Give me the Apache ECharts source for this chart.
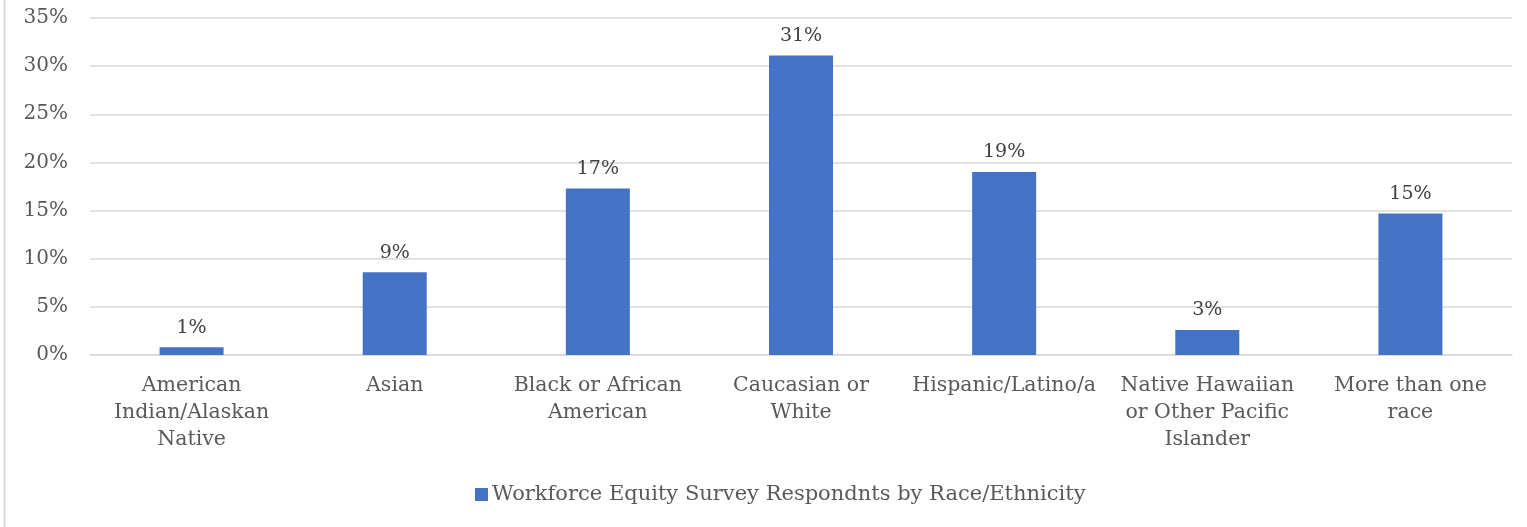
<!DOCTYPE html>
<html>
<head>
<meta charset="utf-8">
<script src="https://cdn.jsdelivr.net/npm/echarts@6/dist/echarts.min.js"></script>
<style>
  html, body { margin: 0; padding: 0; background: #ffffff; }
  #chart { width: 1527px; height: 527px; }
</style>
</head>
<body>
<div id="chart"></div>
<script>
// Race/ethnicity categories of survey respondents
const categories = [
  'American\nIndian/Alaskan\nNative',
  'Asian',
  'Black or African\nAmerican',
  'Caucasian or\nWhite',
  'Hispanic/Latino/a',
  'Native Hawaiian\nor Other Pacific\nIslander',
  'More than one\nrace'
];
// Share of respondents (fraction of total)
const shares = [0.008, 0.086, 0.173, 0.311, 0.190, 0.026, 0.147];
const seriesName = 'Workforce Equity Survey Respondnts by Race/Ethnicity';
// Y axis ticks: 0% to 35% every 5%
const yMin = 0, yMax = 0.35, yStep = 0.05;

const FONT = '"DejaVu Serif", Georgia, serif';
const TEXT = '#595959';
const GRIDLINE = '#d9d9d9';
const BAR = '#4472c4';

const chart = echarts.init(document.getElementById('chart'), null, { renderer: 'canvas' });
chart.setOption({
  animation: false,
  backgroundColor: '#ffffff',
  textStyle: { fontFamily: FONT, color: TEXT },
  graphic: [{
    type: 'line',
    shape: { x1: 4.5, y1: 0, x2: 4.5, y2: 527 },
    style: { stroke: GRIDLINE, lineWidth: 2 }
  }],
  grid: { left: 90, right: 15, top: 18, bottom: 172, containLabel: false },
  legend: {
    data: [seriesName],
    left: 470,
    top: 479,
    itemWidth: 13,
    itemHeight: 13,
    itemGap: 5,
    icon: 'rect',
    textStyle: { fontFamily: FONT, fontSize: 21, color: TEXT, padding: [0, 0, 0, -1] }
  },
  xAxis: {
    type: 'category',
    data: categories,
    axisLine: { show: true, lineStyle: { color: GRIDLINE, width: 1.5 } },
    axisTick: { show: false },
    axisLabel: {
      interval: 0,
      margin: 17,
      fontFamily: FONT,
      fontSize: 20.5,
      lineHeight: 27,
      color: TEXT
    }
  },
  yAxis: {
    type: 'value',
    min: yMin,
    max: yMax,
    interval: yStep,
    axisLine: { show: false },
    axisTick: { show: false },
    splitLine: { lineStyle: { color: GRIDLINE, width: 1.5 } },
    axisLabel: {
      margin: 22,
      fontFamily: FONT,
      fontSize: 20,
      color: TEXT
      ,formatter: v => Math.round(v * 100) + '%'
    }
  },
  series: [{
    name: seriesName,
    type: 'bar',
    data: shares,
    barWidth: 64,
    itemStyle: { color: BAR },
    label: {
      show: true,
      position: 'top',
      distance: 10,
      fontFamily: FONT,
      fontSize: 19,
      color: '#404040',
      formatter: p => Math.round(p.value * 100) + '%'
    }
  }]
});
</script>
</body>
</html>
